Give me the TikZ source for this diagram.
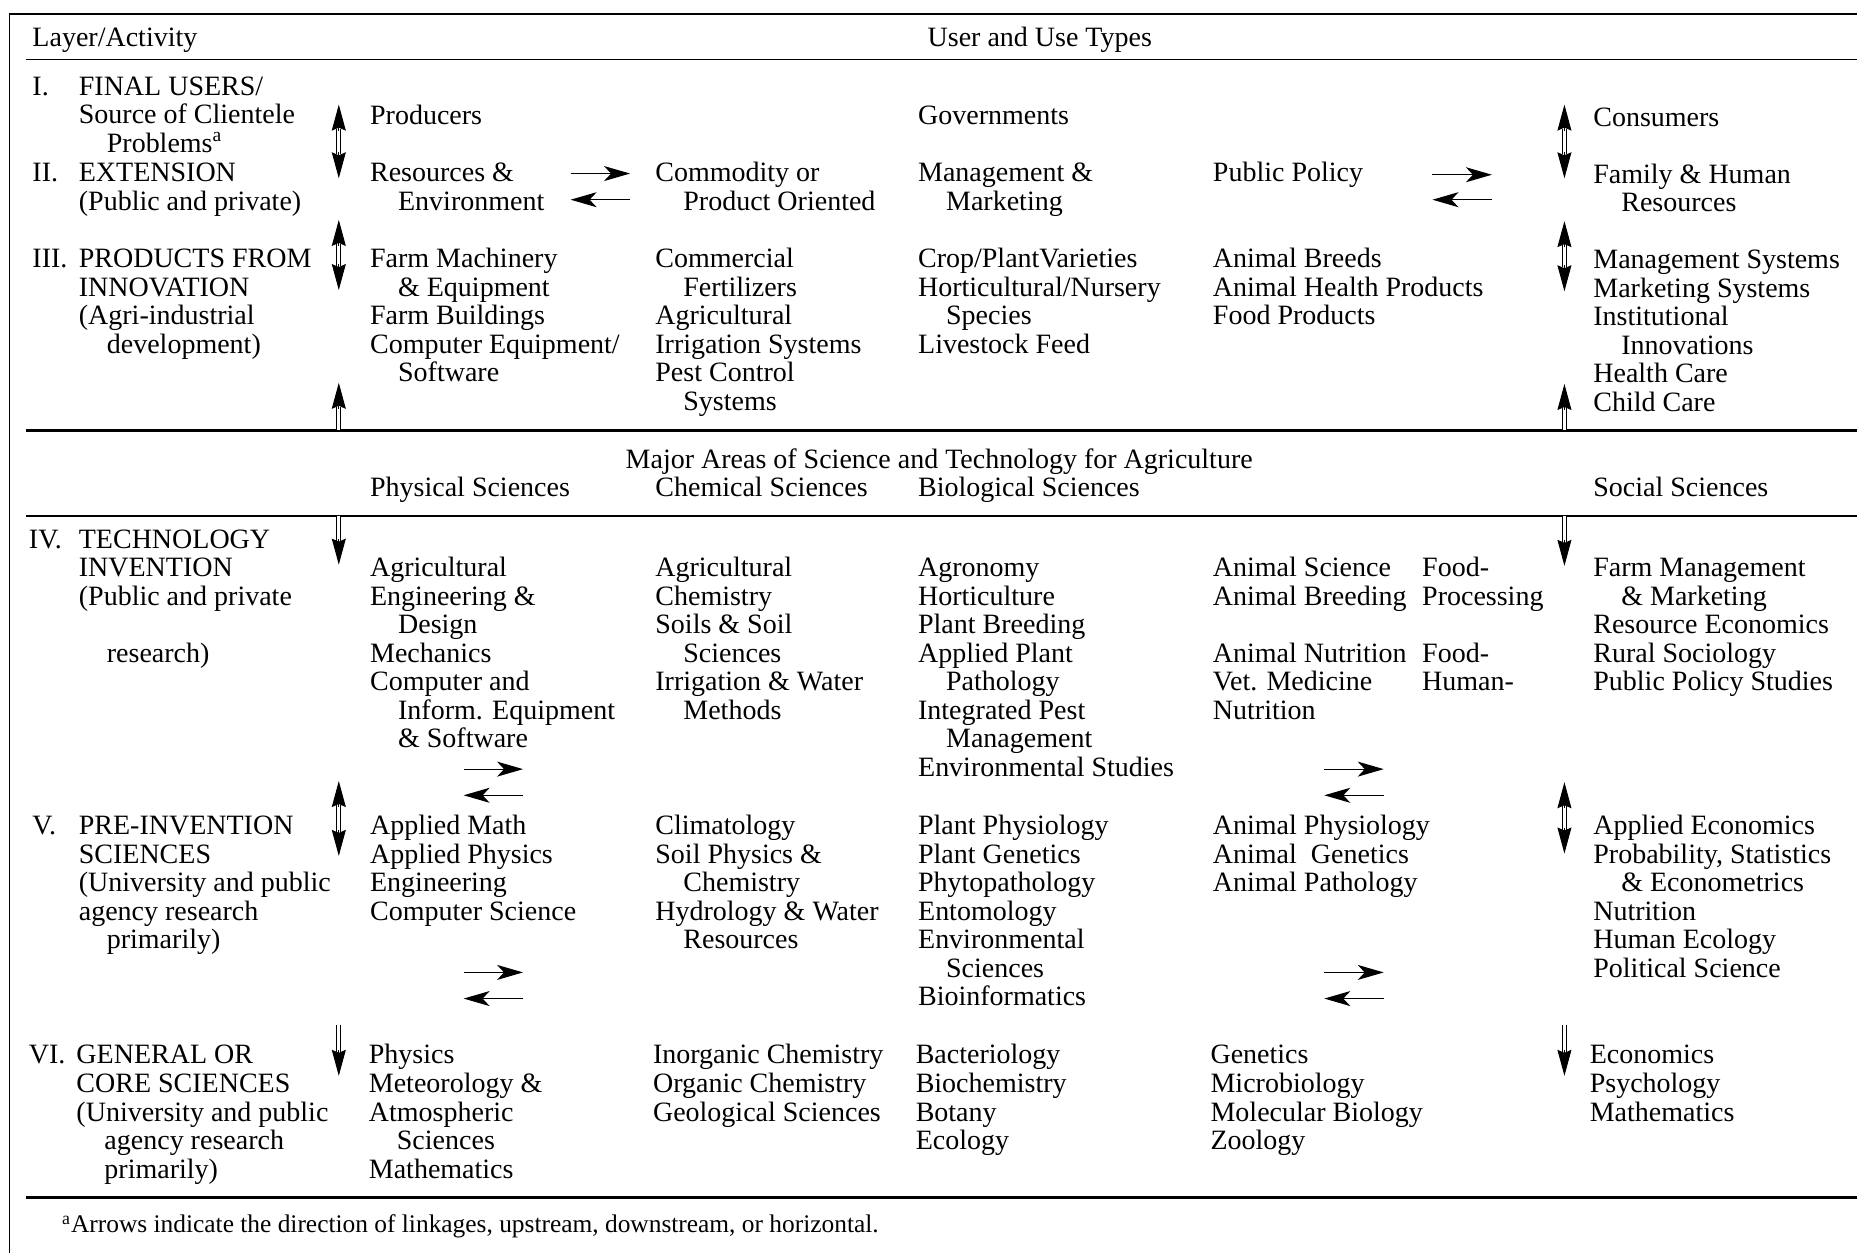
\documentclass[tikz,border=0pt]{standalone}
\usepackage{fontspec}
\setmainfont{Liberation Serif}
\usetikzlibrary{arrows.meta}

\newcommand{\ind}{\hspace*{14pt}}
\newcommand{\cellfont}{\fontsize{14}{14.27}\selectfont}
\newcommand{\notefont}{\fontsize{12.7}{14}\selectfont}
\newcommand{\cellrows}[1]{\begin{tabular}[t]{@{}l@{}}#1\end{tabular}}

\tikzset{
  cell/.style={anchor=base west, inner sep=0pt, font=\cellfont},
  vshaft/.style={double, double distance=1.4pt, line width=0.5pt},
  vhead/.style={line width=0.5pt, -{Stealth[length=13pt, width=7pt, inset=1.5pt]}},
  sidearrow/.style={line width=0.6pt, -{Stealth[length=13pt, width=7.5pt, inset=3.5pt]}}
}

\begin{document}
\begin{tikzpicture}[x=0.5944pt, y=-0.5944pt]
\useasboundingbox (0,0) rectangle (1568,1054);

% frame and rules
\draw[line width=0.8pt] (8,1054) -- (8,12) -- (1562,12);
\draw[line width=0.6pt] (22,50) -- (1562,50);
\draw[line width=1.4pt] (22,362) -- (1562,362);
\draw[line width=0.7pt] (22,434) -- (1562,434);
\draw[line width=1.6pt] (22,1007) -- (1562,1007);

% headings
\node[cell] (hdLayer) at (27,39) {Layer/Activity};
\node[cell] (hdUser) at (780,39) {User and Use Types};

% layers
\node[cell] (nI) at (27,80) {I.};
\node[cell] (lI) at (66,80) {\cellrows{FINAL USERS/\\Source of Clientele\\\ind Problems\textsuperscript{a}}};
\node[cell] (nII) at (27,153) {II.};
\node[cell] (lII) at (66,153) {\cellrows{EXTENSION\\(Public and private)}};
\node[cell] (nIII) at (27,225) {III.};
\node[cell] (lIII) at (66,225) {\cellrows{PRODUCTS FROM\\INNOVATION\\(Agri-industrial\\\ind development)}};
\node[cell] (nIV) at (24,461) {IV.};
\node[cell] (lIV) at (66,461) {\cellrows{TECHNOLOGY\\INVENTION\\(Public and private\\[14.27pt]\ind research)}};
\node[cell] (nV) at (27,702) {V.};
\node[cell] (lV) at (66,702) {\cellrows{PRE-INVENTION\\SCIENCES\\(University and public\\agency research\\\ind primarily)}};
\node[cell] (nVI) at (24,895) {VI.};
\node[cell] (lVI) at (64,895) {\cellrows{GENERAL OR\\CORE SCIENCES\\(University and public\\\ind agency research\\\ind primarily)}};

% users
\node[cell] (producers) at (311,105) {Producers};
\node[cell] (govts) at (772,105) {Governments};
\node[cell] (consumers) at (1340,106) {Consumers};

% extension
\node[cell] (extRes) at (311,153) {\cellrows{Resources \&\\\ind Environment}};
\node[cell] (extCom) at (551,153) {\cellrows{Commodity or\\\ind Product Oriented}};
\node[cell] (extMgt) at (772,153) {\cellrows{Management \&\\\ind Marketing}};
\node[cell] (extPol) at (1020,153) {Public Policy};
\node[cell] (extFam) at (1340,154) {\cellrows{Family \& Human\\\ind Resources}};

% products
\node[cell] (prPhys) at (311,225) {\cellrows{Farm Machinery\\\ind \& Equipment\\Farm Buildings\\Computer Equipment/\\\ind Software}};
\node[cell] (prChem) at (551,225) {\cellrows{Commercial\\\ind Fertilizers\\Agricultural\\Irrigation Systems\\Pest Control\\\ind Systems}};
\node[cell] (prCrop) at (772,225) {\cellrows{Crop/PlantVarieties\\Horticultural/Nursery\\\ind Species\\Livestock Feed}};
\node[cell] (prAnim) at (1020,225) {\cellrows{Animal Breeds\\Animal Health Products\\Food Products}};
\node[cell] (prSoc) at (1340,226) {\cellrows{Management Systems\\Marketing Systems\\Institutional\\\ind Innovations\\Health Care\\Child Care}};

% science areas
\node[cell] (hdMajor) at (526,394) {Major Areas of Science and Technology for Agriculture};
\node[cell] (hdPhys) at (311,418) {Physical Sciences};
\node[cell] (hdChem) at (551,418) {Chemical Sciences};
\node[cell] (hdBio) at (772,418) {Biological Sciences};
\node[cell] (hdSoc) at (1340,418) {Social Sciences};

% technology invention
\node[cell] (tiPhys) at (311,485) {\cellrows{Agricultural\\Engineering \&\\\ind Design\\Mechanics\\Computer and\\\ind Inform. Equipment\\\ind \& Software}};
\node[cell] (tiChem) at (551,485) {\cellrows{Agricultural\\Chemistry\\Soils \& Soil\\\ind Sciences\\Irrigation \& Water\\\ind Methods}};
\node[cell] (tiBio) at (772,485) {\cellrows{Agronomy\\Horticulture\\Plant Breeding\\Applied Plant\\\ind Pathology\\Integrated Pest\\\ind Management\\Environmental Studies}};
\node[cell] (tiAnim) at (1020,485) {\cellrows{Animal Science\\Animal Breeding\\[14.27pt]Animal Nutrition\\Vet. Medicine\\Nutrition}};
\node[cell] (tiFood) at (1196,485) {\cellrows{Food-\\Processing\\[14.27pt]Food-\\Human-}};
\node[cell] (tiSoc) at (1340,485) {\cellrows{Farm Management\\\ind \& Marketing\\Resource Economics\\Rural Sociology\\Public Policy Studies}};

% pre-invention sciences
\node[cell] (piPhys) at (311,702) {\cellrows{Applied Math\\Applied Physics\\Engineering\\Computer Science}};
\node[cell] (piChem) at (551,702) {\cellrows{Climatology\\Soil Physics \&\\\ind Chemistry\\Hydrology \& Water\\\ind Resources}};
\node[cell] (piBio) at (772,702) {\cellrows{Plant Physiology\\Plant Genetics\\Phytopathology\\Entomology\\Environmental\\\ind Sciences\\Bioinformatics}};
\node[cell] (piAnim) at (1020,702) {\cellrows{Animal Physiology\\Animal\ \ Genetics\\Animal Pathology}};
\node[cell] (piSoc) at (1340,702) {\cellrows{Applied Economics\\Probability, Statistics\\\ind \& Econometrics\\Nutrition\\Human Ecology\\Political Science}};

% core sciences
\node[cell] (csPhys) at (310,895) {\cellrows{Physics\\Meteorology \&\\Atmospheric\\\ind Sciences\\Mathematics}};
\node[cell] (csChem) at (549,895) {\cellrows{Inorganic Chemistry\\Organic Chemistry\\Geological Sciences}};
\node[cell] (csBio) at (770,895) {\cellrows{Bacteriology\\Biochemistry\\Botany\\Ecology}};
\node[cell] (csAnim) at (1018,895) {\cellrows{Genetics\\Microbiology\\Molecular Biology\\Zoology}};
\node[cell] (csSoc) at (1337,895) {\cellrows{Economics\\Psychology\\Mathematics}};

\node[cell, font=\notefont] (note) at (52,1037) {\textsuperscript{a}Arrows indicate the direction of linkages, upstream, downstream, or horizontal.};

% vertical arrows, left column
\coordinate (L1t) at (285,88);  \coordinate (L1b) at (285,150);
\coordinate (L2t) at (285,185); \coordinate (L2b) at (285,244);
\coordinate (L3t) at (285,322); \coordinate (L3b) at (285,362);
\coordinate (L4t) at (285,434); \coordinate (L4b) at (285,475);
\coordinate (L5t) at (285,657); \coordinate (L5b) at (285,720);
\coordinate (L6t) at (285,862); \coordinate (L6b) at (285,905);

\draw[vshaft, shorten <=12pt, shorten >=12pt] (L1t) -- (L1b);
\draw[vhead] ([yshift=-13pt]L1t) -- (L1t);
\draw[vhead] ([yshift=13pt]L1b) -- (L1b);
\draw[vshaft, shorten <=12pt, shorten >=12pt] (L2t) -- (L2b);
\draw[vhead] ([yshift=-13pt]L2t) -- (L2t);
\draw[vhead] ([yshift=13pt]L2b) -- (L2b);
\draw[vshaft, shorten <=12pt] (L3t) -- (L3b);
\draw[vhead] ([yshift=-13pt]L3t) -- (L3t);
\draw[vshaft, shorten >=12pt] (L4t) -- (L4b);
\draw[vhead] ([yshift=13pt]L4b) -- (L4b);
\draw[vshaft, shorten <=12pt, shorten >=12pt] (L5t) -- (L5b);
\draw[vhead] ([yshift=-13pt]L5t) -- (L5t);
\draw[vhead] ([yshift=13pt]L5b) -- (L5b);
\draw[vshaft, shorten >=12pt] (L6t) -- (L6b);
\draw[vhead] ([yshift=13pt]L6b) -- (L6b);

% vertical arrows, right column
\coordinate (R1t) at (1316,88);  \coordinate (R1b) at (1316,150);
\coordinate (R2t) at (1316,186); \coordinate (R2b) at (1316,245);
\coordinate (R3t) at (1316,323); \coordinate (R3b) at (1316,362);
\coordinate (R4t) at (1316,434); \coordinate (R4b) at (1316,476);
\coordinate (R5t) at (1316,658); \coordinate (R5b) at (1316,718);
\coordinate (R6t) at (1316,862); \coordinate (R6b) at (1316,905);

\draw[vshaft, shorten <=12pt, shorten >=12pt] (R1t) -- (R1b);
\draw[vhead] ([yshift=-13pt]R1t) -- (R1t);
\draw[vhead] ([yshift=13pt]R1b) -- (R1b);
\draw[vshaft, shorten <=12pt, shorten >=12pt] (R2t) -- (R2b);
\draw[vhead] ([yshift=-13pt]R2t) -- (R2t);
\draw[vhead] ([yshift=13pt]R2b) -- (R2b);
\draw[vshaft, shorten <=12pt] (R3t) -- (R3b);
\draw[vhead] ([yshift=-13pt]R3t) -- (R3t);
\draw[vshaft, shorten >=12pt] (R4t) -- (R4b);
\draw[vhead] ([yshift=13pt]R4b) -- (R4b);
\draw[vshaft, shorten <=12pt, shorten >=12pt] (R5t) -- (R5b);
\draw[vhead] ([yshift=-13pt]R5t) -- (R5t);
\draw[vhead] ([yshift=13pt]R5b) -- (R5b);
\draw[vshaft, shorten >=12pt] (R6t) -- (R6b);
\draw[vhead] ([yshift=13pt]R6b) -- (R6b);

% horizontal arrow pairs
\coordinate (H1a) at (480,146);  \coordinate (H1b) at (530,146);
\coordinate (H1c) at (480,168);  \coordinate (H1d) at (530,168);
\coordinate (H2a) at (1205,147); \coordinate (H2b) at (1255,147);
\coordinate (H2c) at (1205,168); \coordinate (H2d) at (1255,168);
\coordinate (H3a) at (390,647);  \coordinate (H3b) at (440,647);
\coordinate (H3c) at (390,669);  \coordinate (H3d) at (440,669);
\coordinate (H4a) at (1114,647); \coordinate (H4b) at (1164,647);
\coordinate (H4c) at (1114,669); \coordinate (H4d) at (1164,669);
\coordinate (H5a) at (390,818);  \coordinate (H5b) at (440,818);
\coordinate (H5c) at (390,840);  \coordinate (H5d) at (440,840);
\coordinate (H6a) at (1114,818); \coordinate (H6b) at (1164,818);
\coordinate (H6c) at (1114,840); \coordinate (H6d) at (1164,840);

\draw[sidearrow] (H1a) -- (H1b);
\draw[sidearrow] (H1d) -- (H1c);
\draw[sidearrow] (H2a) -- (H2b);
\draw[sidearrow] (H2d) -- (H2c);
\draw[sidearrow] (H3a) -- (H3b);
\draw[sidearrow] (H3d) -- (H3c);
\draw[sidearrow] (H4a) -- (H4b);
\draw[sidearrow] (H4d) -- (H4c);
\draw[sidearrow] (H5a) -- (H5b);
\draw[sidearrow] (H5d) -- (H5c);
\draw[sidearrow] (H6a) -- (H6b);
\draw[sidearrow] (H6d) -- (H6c);

\end{tikzpicture}
\end{document}
